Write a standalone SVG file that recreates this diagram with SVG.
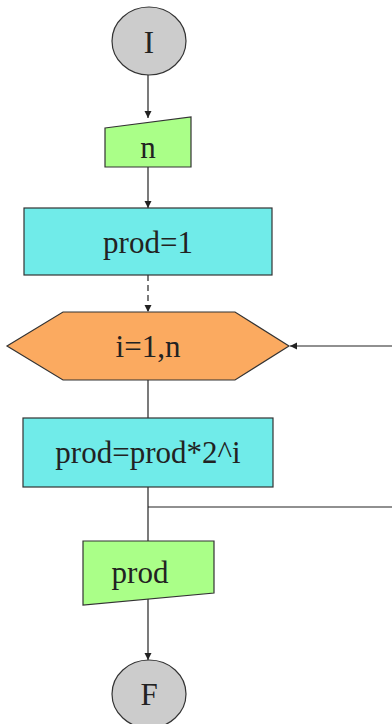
<svg xmlns="http://www.w3.org/2000/svg" width="392" height="724" viewBox="0 0 392 724">
<style>
.n{stroke:#333;stroke-width:1.2}
.term{fill:#cccccc}
.io{fill:#aaff88}
.proc{fill:#70ebe9}
.loop{fill:#fbaa60}
.t{font-family:"Liberation Serif","DejaVu Serif",serif;font-size:31px;fill:#222;text-anchor:middle}
.c{stroke:#222;stroke-width:1.2;fill:none}
</style>
<defs>
<marker id="ah" markerWidth="8" markerHeight="8" refX="7" refY="4" orient="auto" markerUnits="userSpaceOnUse">
<path d="M0,0.5 L7,4 L0,7.5 Z" fill="#222"/>
</marker>
</defs>
<g id="connectors">
<line class="c" x1="148" y1="75" x2="148" y2="118" marker-end="url(#ah)"/>
<line class="c" x1="148" y1="167" x2="148" y2="208" marker-end="url(#ah)"/>
<line class="c" x1="148" y1="275" x2="148" y2="312" stroke-dasharray="6,4" marker-end="url(#ah)"/>
<line class="c" x1="392" y1="346" x2="290" y2="346" marker-end="url(#ah)"/>
<line class="c" x1="148" y1="380" x2="148" y2="418"/>
<line class="c" x1="148" y1="487" x2="148" y2="541"/>
<line class="c" x1="148" y1="507" x2="392" y2="507"/>
<line class="c" x1="148" y1="599" x2="148" y2="660" marker-end="url(#ah)"/>
</g>
<g id="start">
<ellipse class="n term" cx="149" cy="41" rx="37" ry="34"/>
<text class="t" x="149" y="53">I</text>
</g>
<g id="input_n">
<polygon class="n io" points="105,128 191,117 191,167 105,167"/>
<text class="t" x="148" y="158">n</text>
</g>
<g id="init">
<rect class="n proc" x="24" y="208" width="248" height="67"/>
<text class="t" x="148" y="253">prod=1</text>
</g>
<g id="loop">
<polygon class="n loop" points="7,346 63,312 235,312 289,346 235,380 63,380"/>
<text class="t" x="148" y="357">i=1,n</text>
</g>
<g id="body">
<rect class="n proc" x="23" y="418" width="250" height="69"/>
<text class="t" x="148" y="463">prod=prod*2^i</text>
</g>
<g id="output_prod">
<polygon class="n io" points="83,541 214,541 214,593 83,605"/>
<text class="t" x="140" y="583">prod</text>
</g>
<g id="end">
<ellipse class="n term" cx="149" cy="694" rx="37" ry="34"/>
<text class="t" x="149" y="705">F</text>
</g>
</svg>
